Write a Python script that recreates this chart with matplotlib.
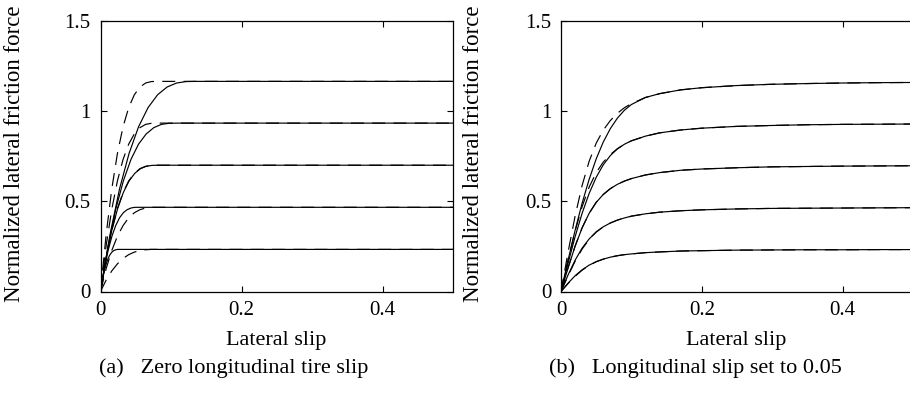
import matplotlib
matplotlib.use("Agg")
import matplotlib.pyplot as plt

# Left panel: zero longitudinal slip
left_solid_x = [
    [0, 0.0027, 0.0054, 0.0081, 0.0108, 0.0135, 0.0162, 0.0189, 0.0216, 0.0243, 0.027, 0.5],
    [0, 0.0054, 0.0108, 0.0162, 0.0216, 0.027, 0.0324, 0.0378, 0.0432, 0.0486, 0.054, 0.5],
    [0, 0.0081, 0.0162, 0.0243, 0.0324, 0.0405, 0.0486, 0.0567, 0.0648, 0.0729, 0.081, 0.5],
    [0, 0.0108, 0.0216, 0.0324, 0.0432, 0.054, 0.0648, 0.0756, 0.0864, 0.0972, 0.108, 0.5],
    [0, 0.0135, 0.027, 0.0405, 0.054, 0.0675, 0.081, 0.0945, 0.108, 0.1215, 0.135, 0.5],
]
left_dash_x = [0, 0.008, 0.016, 0.024, 0.032, 0.04, 0.048, 0.056, 0.064, 0.072, 0.08, 0.5]
left_force = [
    [0, 0.063, 0.114, 0.153, 0.183, 0.204, 0.218, 0.227, 0.231, 0.233, 0.233, 0.233],
    [0, 0.126, 0.227, 0.306, 0.365, 0.408, 0.436, 0.453, 0.462, 0.466, 0.466, 0.466],
    [0, 0.189, 0.341, 0.459, 0.548, 0.612, 0.654, 0.680, 0.693, 0.698, 0.699, 0.699],
    [0, 0.253, 0.455, 0.612, 0.731, 0.816, 0.872, 0.907, 0.925, 0.931, 0.932, 0.932],
    [0, 0.315, 0.568, 0.764, 0.912, 1.018, 1.089, 1.132, 1.154, 1.162, 1.163, 1.163],
]

# Right panel: longitudinal slip 0.05
right_slip = [0, 0.01, 0.02, 0.03, 0.04, 0.05, 0.06, 0.07, 0.08, 0.09, 0.10,
              0.12, 0.14, 0.17, 0.2, 0.25, 0.3, 0.35, 0.4, 0.45, 0.5]
right_solid = [
    [0, .046, .087, .120, .146, .165, .179, .190, .198, .204, .208, .215, .219, .224, .226, .229, .230, .231, .231, .232, .232],
    [0, .091, .173, .240, .291, .330, .358, .379, .395, .407, .417, .430, .439, .447, .452, .457, .460, .461, .462, .463, .464],
    [0, .130, .250, .352, .433, .493, .537, .569, .593, .611, .625, .645, .658, .671, .678, .685, .690, .692, .694, .695, .696],
    [0, .156, .303, .433, .543, .632, .701, .752, .789, .815, .834, .860, .878, .894, .904, .914, .919, .923, .925, .926, .927],
    [0, .173, .338, .489, .621, .734, .827, .901, .959, 1.003, 1.035, 1.074, 1.095, 1.116, 1.128, 1.140, 1.147, 1.151, 1.154, 1.156, 1.157],
]
right_dash = [
    [0, .044, .084, .118, .144, .165, .179, .190, .198, .204, .208, .215, .219, .224, .226, .229, .230, .231, .231, .232, .232],
    [0, .087, .167, .235, .289, .329, .358, .379, .395, .407, .417, .430, .439, .447, .452, .457, .460, .461, .462, .463, .464],
    [0, .131, .251, .353, .433, .494, .537, .569, .593, .611, .625, .645, .658, .671, .678, .685, .690, .692, .694, .695, .696],
    [0, .174, .334, .470, .578, .658, .716, .758, .790, .815, .834, .860, .878, .894, .904, .914, .919, .923, .925, .926, .927],
    [0, .217, .417, .587, .721, .821, .893, .946, .986, 1.017, 1.040, 1.074, 1.095, 1.116, 1.128, 1.140, 1.147, 1.151, 1.154, 1.156, 1.157],
]

xticks = [0, 0.2, 0.4]
xtick_labels = ["0", "0.2", "0.4"]
yticks = [0, 0.5, 1, 1.5]
ytick_labels = ["0", "0.5", "1", "1.5"]
captions = ["(a)   Zero longitudinal tire slip", "(b)   Longitudinal slip set to 0.05"]

plt.rcParams["font.family"] = ["Liberation Serif", "DejaVu Serif"]

W, H = 910, 405
fig = plt.figure(figsize=(W / 100, H / 100), dpi=100)

# axes boxes in pixels: left, top, right, bottom
boxes = [(100.5, 20.5, 453, 291.5), (561, 20.5, 913, 291.5)]
ylabel_x = [14.5, 473]
xlabel_x = [276, 736]
caption_x = [234, 695]

dash = (0, (11, 7))

for i, (l, t, r, b) in enumerate(boxes):
    ax = fig.add_axes([l / W, 1 - b / H, (r - l) / W, (b - t) / H])
    if i == 0:
        for k in range(5):
            ax.plot(left_solid_x[k], left_force[k], color="black", lw=0.85)
            ax.plot(left_dash_x, left_force[k], color="black", lw=0.85, linestyle=dash)
    else:
        for k in range(5):
            ax.plot(right_slip, right_solid[k], color="black", lw=0.85)
            ax.plot(right_slip, right_dash[k], color="black", lw=0.85, linestyle=dash)

    ax.set_xlim(0, 0.5)
    ax.set_ylim(0, 1.5)
    ax.set_xticks(xticks)
    ax.set_xticklabels(xtick_labels)
    ax.set_yticks(yticks)
    ax.set_yticklabels(ytick_labels)
    ax.tick_params(direction="in", length=4, width=0.8, top=True, right=(i == 0),
                   labelsize=15, pad=7)
    for sp in ax.spines.values():
        sp.set_linewidth(0.9)

    fig.text(xlabel_x[i] / W, 1 - 340 / H, "Lateral slip", ha="center", va="center", fontsize=16)
    fig.text(ylabel_x[i] / W, 1 - 154 / H, "Normalized lateral friction force",
             rotation=90, ha="center", va="center", fontsize=16.5)
    fig.text(caption_x[i] / W, 1 - 368 / H, captions[i], ha="center", va="center", fontsize=16)

fig.savefig("out.png", dpi=100)
